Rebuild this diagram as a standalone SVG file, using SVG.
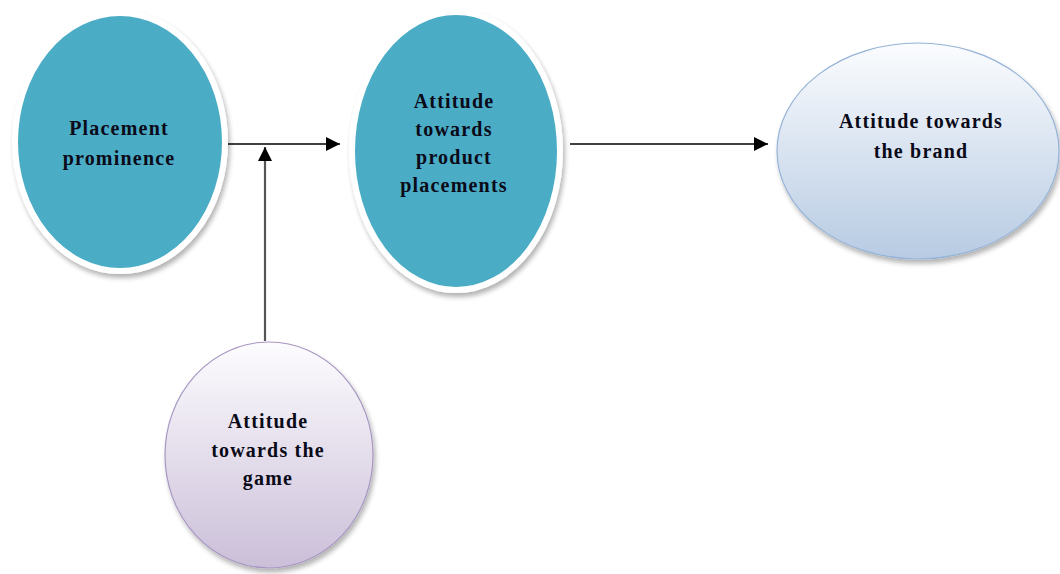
<svg xmlns="http://www.w3.org/2000/svg" width="1060" height="574" viewBox="0 0 1060 574">
<style>
text{font-family:"Liberation Serif","Times New Roman",serif;font-weight:bold;font-size:20px;letter-spacing:1.2px;fill:#0a0a18;text-anchor:middle}
.teal{fill:#4bacc6;stroke:#ffffff;stroke-width:6}
.conn{fill:none;stroke:#000;stroke-width:1.6}
.conn2{fill:none;stroke:#555;stroke-width:2.2}
</style>
<defs>
<linearGradient id="gBlue" x1="0" y1="0" x2="0" y2="1">
<stop offset="0" stop-color="#fbfcfe"/>
<stop offset="1" stop-color="#b7cbe3"/>
</linearGradient>
<linearGradient id="gPurple" x1="0" y1="0" x2="0" y2="1">
<stop offset="0" stop-color="#fdfcfe"/>
<stop offset="1" stop-color="#cbbfd9"/>
</linearGradient>
<filter id="sh" x="-10%" y="-10%" width="125%" height="125%">
<feGaussianBlur in="SourceAlpha" stdDeviation="2.5"/>
<feOffset dx="2" dy="4" result="b"/>
<feComponentTransfer><feFuncA type="linear" slope="0.3"/></feComponentTransfer>
<feMerge><feMergeNode/><feMergeNode in="SourceGraphic"/></feMerge>
</filter>
<marker id="arrL" viewBox="0 0 10 10" refX="10" refY="5" markerWidth="15" markerHeight="14" markerUnits="userSpaceOnUse" orient="auto">
<path d="M0,0 L10,5 L0,10 z" fill="#000"/>
</marker>
</defs>
<g id="connectors">
<line class="conn" x1="228" y1="144" x2="340" y2="144" marker-end="url(#arrL)"/>
<line class="conn2" x1="265" y1="341" x2="265" y2="147" marker-end="url(#arrL)"/>
<line class="conn" x1="570" y1="144" x2="768" y2="144" marker-end="url(#arrL)"/>
</g>
<g id="placement-prominence">
<ellipse class="teal" cx="120" cy="142" rx="105" ry="129" filter="url(#sh)"/>
<text x="119" y="135">Placement</text>
<text x="119" y="165">prominence</text>
</g>
<g id="attitude-product-placements">
<ellipse class="teal" cx="456" cy="151" rx="104" ry="139" filter="url(#sh)"/>
<text x="454" y="108">Attitude</text>
<text x="454" y="136">towards</text>
<text x="454" y="164">product</text>
<text x="454" y="192">placements</text>
</g>
<g id="attitude-brand">
<ellipse cx="918" cy="151" rx="141" ry="108" fill="url(#gBlue)" stroke="#95b3d7" stroke-width="1.2" filter="url(#sh)"/>
<text x="921" y="128">Attitude towards</text>
<text x="921" y="158">the brand</text>
</g>
<g id="attitude-game">
<ellipse cx="269" cy="455" rx="104" ry="113" fill="url(#gPurple)" stroke="#a897c2" stroke-width="1.2" filter="url(#sh)"/>
<text x="268" y="428">Attitude</text>
<text x="268" y="457">towards the</text>
<text x="268" y="485">game</text>
</g>
</svg>
